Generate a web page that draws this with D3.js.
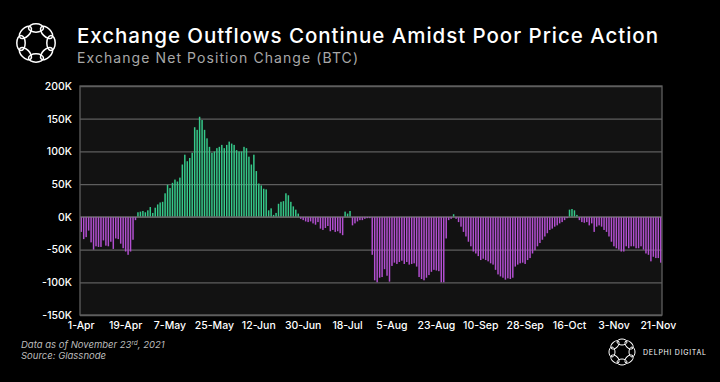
<!DOCTYPE html>
<html><head><meta charset="utf-8">
<script src="https://cdn.jsdelivr.net/npm/d3@7"></script>
<style>
html,body{margin:0;padding:0;background:#000;}
svg{display:block;}
</style></head>
<body>
<svg id="chart" width="720" height="382"></svg>
<script>
// ---------- DATA ----------
const startDate = "2021-04-01";           // first daily bar
// Exchange net position change, thousands of BTC, one value per day (1-Apr .. 22-Nov 2021)
const netChangeK = [
  -23,-34,-31,-21,-39,-50,-45,-46,-46,-36,-44,-45,-38,-49,-33,-34,-41,-48,-53,-58,-53,-35,-5,
  7,8,9,7,10,15,6,14,19,22,
  23,36,49,44,52,57,54,60,80,95,85,90,98,137,133,153,148,133,120,107,98,100,105,107,110,105,110,115,112,110,102,100,100,107,105,
  92,80,95,70,51,48,43,42,10,13,3,6,20,23,24,36,33,23,16,11,5,
  -3,-5,-7,-8,-7,-10,-12,-8,-18,-20,-17,-14,-22,-20,-23,-22,-25,-28,
  8,5,9,
  -13,-10,-7,-5,-5,-3,-2,-2,
  -58,-97,-100,-93,-92,-80,-90,-99,-75,-70,-72,-69,-67,-72,-69,-73,-72,
  -71,-76,-92,-95,-97,-93,-89,-84,-81,-82,-83,-100,-100,-33,-5,-3,
  4,
  -3,-8,-15,-23,-30,-38,-45,-53,-56,-60,-66,-64,-66,-68,-71,-73,-81,-88,-91,-93,-96,-94,-95,-93,
  -76,-73,-71,-70,-72,-66,-63,-56,-51,-45,-40,-35,-30,-25,-20,-18,-15,-13,-10,-8,-5,-2,
  11,12,10,3,
  -5,-8,-9,-8,-13,-10,-23,-15,-13,-15,-20,-23,-30,-38,-45,-48,-50,-53,-53,-45,-48,-45,-45,-48,-48,-45,-50,-56,-58,-68,-61,-63,-63,-70
];
const yTicks = [-150,-100,-50,0,50,100,150,200];
const xTickLabels = ["1-Apr","19-Apr","7-May","25-May","12-Jun","30-Jun","18-Jul","5-Aug","23-Aug","10-Sep","28-Sep","16-Oct","3-Nov","21-Nov"];
const titleText = "Exchange Outflows Continue Amidst Poor Price Action";
const subtitleText = "Exchange Net Position Change (BTC)";

// ---------- SETUP ----------
const svg = d3.select("#chart");
const W = 720, H = 382;
const plot = {left: 80, right: 662, top: 86, bottom: 315};
const FONT = "Inter, 'Open Sans', 'DejaVu Sans', sans-serif";

svg.append("rect").attr("width", W).attr("height", H).attr("fill", "#000");

const parse = d3.timeParse("%Y-%m-%d");
const fmt = d3.timeFormat("%-d-%b");
const categories = netChangeK.map((_, i) => fmt(d3.timeDay.offset(parse(startDate), i)));
const data = categories.map((c, i) => ({cat: c, v: netChangeK[i]}));

const x = d3.scaleBand().domain(categories).range([plot.left, plot.right])
  .paddingInner(0.4).paddingOuter(0.2);
const y = d3.scaleLinear().domain([-150, 200]).range([plot.bottom, plot.top]);

// plot background
svg.append("rect")
  .attr("x", plot.left).attr("y", plot.top)
  .attr("width", plot.right - plot.left).attr("height", plot.bottom - plot.top)
  .attr("fill", "#121212");

// gridlines
const grid = svg.append("g").attr("transform", `translate(${plot.left},0)`)
  .call(d3.axisLeft(y).tickValues(yTicks).tickSize(-(plot.right - plot.left)).tickFormat(""));
grid.select(".domain").remove();
grid.selectAll("line").attr("stroke", "#5e5e5e").attr("stroke-width", 1.3);

// bars
svg.append("g").selectAll("rect").data(data).join("rect")
  .attr("x", d => x(d.cat))
  .attr("width", x.bandwidth())
  .attr("y", d => Math.min(y(d.v), y(0)))
  .attr("height", d => Math.abs(y(d.v) - y(0)))
  .attr("fill", d => d.v >= 0 ? "#35c98a" : "#b24fd0");

// zero line
svg.append("line").attr("x1", plot.left).attr("x2", plot.right)
  .attr("y1", y(0)).attr("y2", y(0)).attr("stroke", "#6a6a6a").attr("stroke-width", 1);

// frame
svg.append("rect")
  .attr("x", plot.left).attr("y", plot.top)
  .attr("width", plot.right - plot.left).attr("height", plot.bottom - plot.top)
  .attr("fill", "none").attr("stroke", "#5e5e5e").attr("stroke-width", 1.3);

// y axis labels
const yAx = svg.append("g").attr("transform", `translate(${plot.left},0)`)
  .call(d3.axisLeft(y).tickValues(yTicks).tickSize(0).tickPadding(8).tickFormat(d => d + "K"));
yAx.select(".domain").remove();
yAx.selectAll("text").attr("fill", "#fff").style("font-family", FONT)
  .style("font-size", "10.5px").style("font-weight", 500);

// x axis labels
const xAx = svg.append("g").attr("transform", `translate(0,${plot.bottom})`)
  .call(d3.axisBottom(x).tickValues(xTickLabels).tickSize(0).tickPadding(7));
xAx.select(".domain").remove();
xAx.selectAll("text").attr("fill", "#fff").style("font-family", FONT)
  .style("font-size", "10.5px").style("font-weight", 500);

// ---------- TITLES ----------
function fitText(sel, target) {
  const n = sel.text().length;
  const w = sel.node().getComputedTextLength();
  sel.attr("letter-spacing", ((target - w) / (n - 1)).toFixed(3));
}
const t = svg.append("text").attr("x", 77).attr("y", 43)
  .attr("fill", "#fff").style("font-family", FONT).style("font-size", "20.5px").style("font-weight", 500)
  .text(titleText);
fitText(t, 581);
const st = svg.append("text").attr("x", 77).attr("y", 63)
  .attr("fill", "#a8a8a8").style("font-family", FONT).style("font-size", "14px")
  .text(subtitleText);
fitText(st, 281);

// ---------- LOGOS ----------
function logo(cx, cy, r, rx, ry, sw) {
  const g = svg.append("g");
  d3.range(8).forEach(k => {
    const a = k * Math.PI / 4 - Math.PI / 2;
    g.append("ellipse")
      .attr("cx", cx + r * Math.cos(a)).attr("cy", cy + r * Math.sin(a))
      .attr("rx", rx).attr("ry", ry)
      .attr("transform", `rotate(${a * 180 / Math.PI + 90},${cx + r * Math.cos(a)},${cy + r * Math.sin(a)})`)
      .attr("fill", "none").attr("stroke", "#fff").attr("stroke-width", sw);
  });
}
logo(36, 43, 15, 7.5, 4.2, 1.5);
logo(622, 352, 10, 5, 3, 1);

const brand = svg.append("text").attr("x", 643).attr("y", 355)
  .attr("fill", "#fff").style("font-family", FONT).style("font-size", "7px")
  .text("DELPHI DIGITAL");
fitText(brand, 63);

// ---------- FOOTER ----------
const f1 = svg.append("text").attr("x", 21).attr("y", 348)
  .attr("fill", "#bdbdbd").style("font-family", FONT).style("font-size", "9.5px").style("font-style", "italic");
f1.append("tspan").text("Data as of November 23");
f1.append("tspan").attr("dy", -3).style("font-size", "6.5px").text("rd");
f1.append("tspan").attr("dy", 3).text(", 2021");
svg.append("text").attr("x", 21).attr("y", 359)
  .attr("fill", "#bdbdbd").style("font-family", FONT).style("font-size", "9.5px").style("font-style", "italic")
  .text("Source: Glassnode");
</script>
</body></html>
